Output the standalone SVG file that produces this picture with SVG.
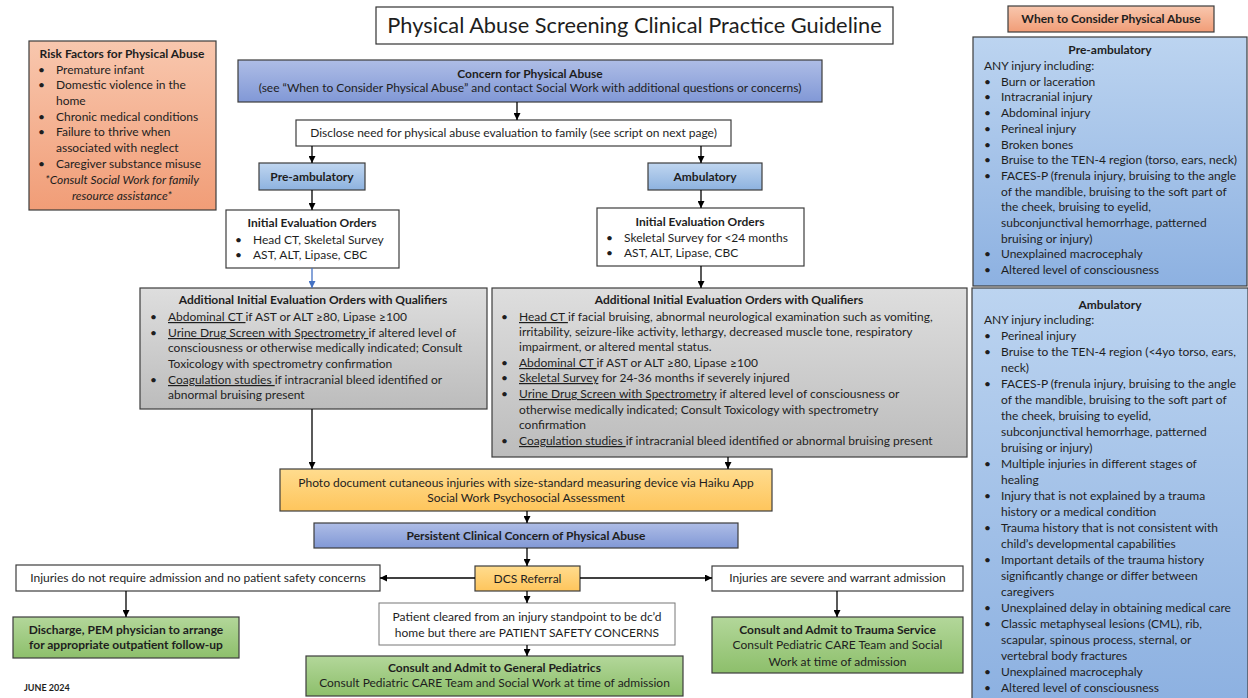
<svg xmlns="http://www.w3.org/2000/svg" width="1248" height="698" viewBox="0 0 1248 698">
<style>
.t{font-family:Lato,"Liberation Sans",sans-serif;font-size:12px;fill:#1e1e1e}
.b{font-weight:bold}
.c{text-anchor:middle}
.i{font-style:italic}
.u{text-decoration:underline}
.box{stroke:#3c3c3c;stroke-width:1.2}
.cn{stroke:#000;stroke-width:1.3;fill:none}
</style>
<defs>
<linearGradient id="gBlue" x1="0" y1="0" x2="0" y2="1"><stop offset="0" stop-color="#aebde6"/><stop offset="1" stop-color="#8198d6"/></linearGradient>
<linearGradient id="gBlue2" x1="0" y1="0" x2="0" y2="1"><stop offset="0" stop-color="#c0d6f0"/><stop offset="1" stop-color="#8db2df"/></linearGradient>
<linearGradient id="gSide" x1="0" y1="0" x2="0" y2="1"><stop offset="0" stop-color="#bcd4f0"/><stop offset="1" stop-color="#8db1e1"/></linearGradient>
<linearGradient id="gGray" x1="0" y1="0" x2="0" y2="1"><stop offset="0" stop-color="#dedede"/><stop offset="1" stop-color="#bcbcbc"/></linearGradient>
<linearGradient id="gOrange" x1="0" y1="0" x2="0" y2="1"><stop offset="0" stop-color="#f8c7ae"/><stop offset="1" stop-color="#f19d77"/></linearGradient>
<linearGradient id="gYellow" x1="0" y1="0" x2="0" y2="1"><stop offset="0" stop-color="#ffdc8e"/><stop offset="1" stop-color="#fec55c"/></linearGradient>
<linearGradient id="gGreen" x1="0" y1="0" x2="0" y2="1"><stop offset="0" stop-color="#b3d79a"/><stop offset="1" stop-color="#8dbf6b"/></linearGradient>
<marker id="ar" viewBox="0 0 8 8" refX="8" refY="4" markerWidth="7" markerHeight="7" markerUnits="userSpaceOnUse" orient="auto"><path d="M0,0 L8,4 L0,8 z" fill="#000"/></marker>
<marker id="arB" viewBox="0 0 8 8" refX="8" refY="4" markerWidth="7" markerHeight="7" markerUnits="userSpaceOnUse" orient="auto"><path d="M0,0 L8,4 L0,8 z" fill="#4472c4"/></marker>
</defs>
<rect width="1248" height="698" fill="#fff"/>

<g id="title">
<rect x="376" y="7" width="517" height="37" fill="#fff" stroke="#333" stroke-width="1.2"/>
<text class="t c" x="634.5" y="33" style="font-size:21.8px">Physical Abuse Screening Clinical Practice Guideline</text>
</g>

<g id="risk-factors">
<rect class="box" x="29" y="41" width="187" height="169" fill="url(#gOrange)"/>
<text class="t b c" x="122" y="58">Risk Factors for Physical Abuse</text>
<text class="t"><tspan x="38" y="74">•</tspan><tspan x="56" y="74">Premature infant</tspan>
<tspan x="38" y="89">•</tspan><tspan x="56" y="89">Domestic violence in the</tspan>
<tspan x="56" y="105">home</tspan>
<tspan x="38" y="121">•</tspan><tspan x="56" y="121">Chronic medical conditions</tspan>
<tspan x="38" y="136">•</tspan><tspan x="56" y="136">Failure to thrive when</tspan>
<tspan x="56" y="152">associated with neglect</tspan>
<tspan x="38" y="168">•</tspan><tspan x="56" y="168">Caregiver substance misuse</tspan></text>
<text class="t i c" x="122" y="184">*Consult Social Work for family</text>
<text class="t i c" x="122" y="200">resource assistance*</text>
</g>

<g id="concern">
<rect class="box" x="238" y="60" width="584" height="42" fill="url(#gBlue)"/>
<text class="t b c" x="530" y="78">Concern for Physical Abuse</text>
<text class="t c" x="530" y="92">(see “When to Consider Physical Abuse” and contact Social Work with additional questions or concerns)</text>
</g>

<g id="disclose">
<rect class="box" x="296" y="120" width="435" height="26" fill="#fff"/>
<text class="t c" x="513.5" y="137">Disclose need for physical abuse evaluation to family (see script on next page)</text>
</g>

<g id="pre-ambulatory">
<rect class="box" x="259" y="163" width="106" height="27" fill="url(#gBlue2)"/>
<text class="t b c" x="312" y="181">Pre-ambulatory</text>
</g>

<g id="ambulatory">
<rect class="box" x="648" y="163" width="114" height="27" fill="url(#gBlue2)"/>
<text class="t b c" x="705" y="181">Ambulatory</text>
</g>

<g id="initial-left">
<rect class="box" x="226" y="210" width="173" height="58" fill="#fff"/>
<text class="t b c" x="312" y="227">Initial Evaluation Orders</text>
<text class="t"><tspan x="235" y="244">•</tspan><tspan x="253" y="244">Head CT, Skeletal Survey</tspan>
<tspan x="235" y="259">•</tspan><tspan x="253" y="259">AST, ALT, Lipase, CBC</tspan></text>
</g>

<g id="initial-right">
<rect class="box" x="597" y="208" width="207" height="58" fill="#fff"/>
<text class="t b c" x="700" y="226">Initial Evaluation Orders</text>
<text class="t"><tspan x="606" y="242">•</tspan><tspan x="624" y="242">Skeletal Survey for &lt;24 months</tspan>
<tspan x="606" y="257">•</tspan><tspan x="624" y="257">AST, ALT, Lipase, CBC</tspan></text>
</g>

<g id="additional-left">
<rect class="box" x="140" y="288" width="347" height="121" fill="url(#gGray)"/>
<text class="t b c" x="313" y="304">Additional Initial Evaluation Orders with Qualifiers</text>
<text class="t"><tspan x="150" y="321">•</tspan><tspan x="168" y="321" class="u">Abdominal CT </tspan><tspan>if AST or ALT ≥80, Lipase ≥100</tspan>
<tspan x="150" y="337">•</tspan><tspan x="168" y="337" class="u">Urine Drug Screen with Spectrometry </tspan><tspan>if altered level of</tspan>
<tspan x="168" y="352">consciousness or otherwise medically indicated; Consult</tspan>
<tspan x="168" y="368">Toxicology with spectrometry confirmation</tspan>
<tspan x="150" y="384">•</tspan><tspan x="168" y="384" class="u">Coagulation studies </tspan><tspan>if intracranial bleed identified or</tspan>
<tspan x="168" y="399">abnormal bruising present</tspan></text>
</g>

<g id="additional-right">
<rect class="box" x="492" y="288" width="475" height="169" fill="url(#gGray)"/>
<text class="t b c" x="729" y="304">Additional Initial Evaluation Orders with Qualifiers</text>
<text class="t"><tspan x="501" y="321">•</tspan><tspan x="519" y="321" class="u">Head CT </tspan><tspan>if facial bruising, abnormal neurological examination such as vomiting,</tspan>
<tspan x="519" y="336">irritability, seizure-like activity, lethargy, decreased muscle tone, respiratory</tspan>
<tspan x="519" y="351">impairment, or altered mental status.</tspan>
<tspan x="501" y="367">•</tspan><tspan x="519" y="367" class="u">Abdominal CT </tspan><tspan>if AST or ALT ≥80, Lipase ≥100</tspan>
<tspan x="501" y="382">•</tspan><tspan x="519" y="382" class="u">Skeletal Survey</tspan><tspan> for 24-36 months if severely injured</tspan>
<tspan x="501" y="398">•</tspan><tspan x="519" y="398" class="u">Urine Drug Screen with Spectrometry</tspan><tspan> if altered level of consciousness or</tspan>
<tspan x="519" y="414">otherwise medically indicated; Consult Toxicology with spectrometry</tspan>
<tspan x="519" y="429">confirmation</tspan>
<tspan x="501" y="445">•</tspan><tspan x="519" y="445" class="u">Coagulation studies </tspan><tspan>if intracranial bleed identified or abnormal bruising present</tspan></text>
</g>

<g id="photo">
<rect class="box" x="280" y="469" width="492" height="42" fill="url(#gYellow)"/>
<text class="t c" x="526" y="487">Photo document cutaneous injuries with size-standard measuring device via Haiku App</text>
<text class="t c" x="526" y="502">Social Work Psychosocial Assessment</text>
</g>

<g id="persistent">
<rect class="box" x="314" y="523" width="424" height="25" fill="url(#gBlue)"/>
<text class="t b c" x="526" y="540">Persistent Clinical Concern of Physical Abuse</text>
</g>

<g id="dcs">
<rect class="box" x="475" y="566" width="105" height="25" fill="url(#gYellow)"/>
<text class="t c" x="527.5" y="583">DCS Referral</text>
</g>

<g id="no-admission">
<rect class="box" x="16" y="565" width="364" height="26" fill="#fff"/>
<text class="t c" x="198" y="582">Injuries do not require admission and no patient safety concerns</text>
</g>

<g id="severe">
<rect class="box" x="712" y="566" width="251" height="25" fill="#fff"/>
<text class="t c" x="837.5" y="582">Injuries are severe and warrant admission</text>
</g>

<g id="discharge">
<rect class="box" x="13" y="617" width="226" height="41" fill="url(#gGreen)"/>
<text class="t b c" x="126" y="634">Discharge, PEM physician to arrange</text>
<text class="t b c" x="126" y="649">for appropriate outpatient follow-up</text>
</g>

<g id="patient-cleared">
<rect x="379" y="603" width="296" height="42" fill="#fff" stroke="#777" stroke-width="1"/>
<text class="t c" x="527" y="621">Patient cleared from an injury standpoint to be dc’d</text>
<text class="t c" x="527" y="637">home but there are PATIENT SAFETY CONCERNS</text>
</g>

<g id="general-pediatrics">
<rect class="box" x="306" y="656" width="377" height="40" fill="url(#gGreen)"/>
<text class="t b c" x="494.5" y="672">Consult and Admit to General Pediatrics</text>
<text class="t c" x="494.5" y="687">Consult Pediatric CARE Team and Social Work at time of admission</text>
</g>

<g id="trauma">
<rect class="box" x="712" y="617" width="251" height="56" fill="url(#gGreen)"/>
<text class="t b c" x="837.5" y="634">Consult and Admit to Trauma Service</text>
<text class="t c" x="837.5" y="649">Consult Pediatric CARE Team and Social</text>
<text class="t c" x="837.5" y="666">Work at time of admission</text>
</g>

<g id="date">
<text class="t b" x="24" y="691" style="font-size:9px">JUNE 2024</text>
</g>

<g id="when-to-consider">
<rect class="box" x="1008" y="6" width="206" height="26" fill="url(#gOrange)"/>
<text class="t b c" x="1111" y="23">When to Consider Physical Abuse</text>
</g>

<g id="side-pre-ambulatory">
<rect class="box" x="973" y="37" width="274" height="249" fill="url(#gSide)"/>
<text class="t b c" x="1110" y="54">Pre-ambulatory</text>
<text class="t"><tspan x="984" y="70">ANY injury including:</tspan>
<tspan x="984" y="85.7">•</tspan><tspan x="1001" y="85.7">Burn or laceration</tspan>
<tspan x="984" y="101.4">•</tspan><tspan x="1001" y="101.4">Intracranial injury</tspan>
<tspan x="984" y="117.1">•</tspan><tspan x="1001" y="117.1">Abdominal injury</tspan>
<tspan x="984" y="132.8">•</tspan><tspan x="1001" y="132.8">Perineal injury</tspan>
<tspan x="984" y="148.5">•</tspan><tspan x="1001" y="148.5">Broken bones</tspan>
<tspan x="984" y="164.2">•</tspan><tspan x="1001" y="164.2">Bruise to the TEN-4 region (torso, ears, neck)</tspan>
<tspan x="984" y="179.9">•</tspan><tspan x="1001" y="179.9">FACES-P (frenula injury, bruising to the angle</tspan>
<tspan x="1001" y="195.6">of the mandible, bruising to the soft part of</tspan>
<tspan x="1001" y="211.3">the cheek, bruising to eyelid,</tspan>
<tspan x="1001" y="227">subconjunctival hemorrhage, patterned</tspan>
<tspan x="1001" y="242.7">bruising or injury)</tspan>
<tspan x="984" y="258.4">•</tspan><tspan x="1001" y="258.4">Unexplained macrocephaly</tspan>
<tspan x="984" y="274.1">•</tspan><tspan x="1001" y="274.1">Altered level of consciousness</tspan></text>
</g>

<g id="side-ambulatory">
<rect class="box" x="972" y="288" width="276" height="412" fill="url(#gSide)"/>
<text class="t b c" x="1110" y="309">Ambulatory</text>
<text class="t"><tspan x="984" y="324">ANY injury including:</tspan>
<tspan x="984" y="340">•</tspan><tspan x="1001" y="340">Perineal injury</tspan>
<tspan x="984" y="356">•</tspan><tspan x="1001" y="356">Bruise to the TEN-4 region (&lt;4yo torso, ears,</tspan>
<tspan x="1001" y="372">neck)</tspan>
<tspan x="984" y="388">•</tspan><tspan x="1001" y="388">FACES-P (frenula injury, bruising to the angle</tspan>
<tspan x="1001" y="404">of the mandible, bruising to the soft part of</tspan>
<tspan x="1001" y="420">the cheek, bruising to eyelid,</tspan>
<tspan x="1001" y="436">subconjunctival hemorrhage, patterned</tspan>
<tspan x="1001" y="452">bruising or injury)</tspan>
<tspan x="984" y="468">•</tspan><tspan x="1001" y="468">Multiple injuries in different stages of</tspan>
<tspan x="1001" y="484">healing</tspan>
<tspan x="984" y="500">•</tspan><tspan x="1001" y="500">Injury that is not explained by a trauma</tspan>
<tspan x="1001" y="516">history or a medical condition</tspan>
<tspan x="984" y="532">•</tspan><tspan x="1001" y="532">Trauma history that is not consistent with</tspan>
<tspan x="1001" y="548">child’s developmental capabilities</tspan>
<tspan x="984" y="564">•</tspan><tspan x="1001" y="564">Important details of the trauma history</tspan>
<tspan x="1001" y="580">significantly change or differ between</tspan>
<tspan x="1001" y="596">caregivers</tspan>
<tspan x="984" y="612">•</tspan><tspan x="1001" y="612">Unexplained delay in obtaining medical care</tspan>
<tspan x="984" y="628">•</tspan><tspan x="1001" y="628">Classic metaphyseal lesions (CML), rib,</tspan>
<tspan x="1001" y="644">scapular, spinous process, sternal, or</tspan>
<tspan x="1001" y="660">vertebral body fractures</tspan>
<tspan x="984" y="676">•</tspan><tspan x="1001" y="676">Unexplained macrocephaly</tspan>
<tspan x="984" y="692">•</tspan><tspan x="1001" y="692">Altered level of consciousness</tspan></text>
</g>

<g id="connectors">
<line class="cn" x1="517" y1="102" x2="517" y2="120" marker-end="url(#ar)"/>
<line class="cn" x1="312" y1="146" x2="312" y2="163" marker-end="url(#ar)"/>
<line class="cn" x1="701" y1="146" x2="701" y2="163" marker-end="url(#ar)"/>
<line class="cn" x1="312" y1="190" x2="312" y2="210" marker-end="url(#ar)"/>
<line class="cn" x1="701" y1="190" x2="701" y2="208" marker-end="url(#ar)"/>
<line x1="312" y1="268" x2="312" y2="288" stroke="#4472c4" stroke-width="1.3" marker-end="url(#arB)"/>
<line class="cn" x1="701" y1="266" x2="701" y2="288" marker-end="url(#ar)"/>
<line class="cn" x1="312" y1="409" x2="312" y2="469" marker-end="url(#ar)"/>
<line class="cn" x1="728" y1="457" x2="728" y2="469" marker-end="url(#ar)"/>
<line class="cn" x1="527" y1="511" x2="527" y2="523" marker-end="url(#ar)"/>
<line class="cn" x1="527" y1="548" x2="527" y2="566" marker-end="url(#ar)"/>
<line class="cn" x1="475" y1="578" x2="380" y2="578" marker-end="url(#ar)"/>
<line class="cn" x1="580" y1="578" x2="712" y2="578" marker-end="url(#ar)"/>
<line class="cn" x1="126" y1="591" x2="126" y2="617" marker-end="url(#ar)"/>
<line class="cn" x1="837" y1="591" x2="837" y2="617" marker-end="url(#ar)"/>
<line class="cn" x1="527" y1="591" x2="527" y2="603" marker-end="url(#ar)"/>
<line class="cn" x1="527" y1="645" x2="527" y2="656" marker-end="url(#ar)"/>
</g>
</svg>
